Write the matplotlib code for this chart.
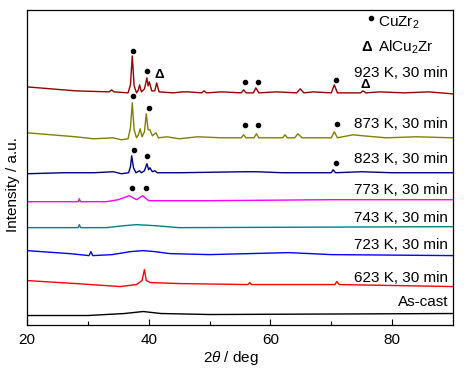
import matplotlib
matplotlib.use("Agg")
import matplotlib.pyplot as plt
import numpy as np

plt.rcParams['font.family'] = ['Liberation Sans', 'DejaVu Sans']
plt.rcParams['mathtext.fontset'] = 'custom'
plt.rcParams['mathtext.rm'] = 'Liberation Sans'
plt.rcParams['mathtext.it'] = 'Liberation Sans:italic'
plt.rcParams['mathtext.bf'] = 'Liberation Sans:bold'

# ---- data (2theta in deg, relative intensity in a.u.) ----
labels = ["923 K, 30 min", "873 K, 30 min", "823 K, 30 min", "773 K, 30 min",
          "743 K, 30 min", "723 K, 30 min", "623 K, 30 min", "As-cast"]
colors = ["#990000", "#808000", "#000080", "#FF00FF",
          "#008080", "#0000FF", "#FF0000", "#000000"]
offsets = [232, 187, 152, 124, 98, 70, 40, 10]
label_y = [248, 197, 162, 131, 103, 76, 43, 19]

x923 = [20, 24, 28, 33.5, 33.9, 34.3, 36.6, 37.0, 37.3, 37.6, 38.0, 38.3, 38.5, 38.8, 39.3,
        39.7, 39.9, 40.1, 40.5, 41.0, 41.3, 41.7, 44, 45.5, 46.5, 48.7, 49.1, 49.5, 52, 55.2,
        55.6, 56.0, 57.2, 57.6, 58.1, 61, 64.3, 64.9, 65.5, 67, 70.0, 70.5, 71.0, 74.8, 75.2,
        75.7, 78, 82, 86, 90]
y923 = [6, 4, 2, 1, 3, 1, 0, 8, 37, 7, 0, 3, 8, 1, 4,
        15, 7, 11, 2, 2, 10, 1, 0, 1, 1, 0, 2, 0, 1, 0,
        3, 0, 0, 5, 0, 1, 0, 4, 0, 1, 0, 8, 0, 0, 2,
        0, 1, 0, 1, -1]

x873 = [20, 24, 28, 31, 34.1, 35.5, 36.6, 37.0, 37.3, 37.6, 38.0, 38.3, 38.6, 38.9, 39.3,
        39.6, 39.9, 40.2, 40.6, 41.2, 41.6, 43.0, 45, 48, 52, 55.2, 55.6, 56.0, 57.3, 57.7,
        58.1, 62.0, 62.4, 62.8, 64.0, 64.5, 65.2, 70.0, 70.5, 71.0, 73.6, 75.2, 79, 84, 90]
y873 = [5, 3, 1, -1, 0, -2, -1, 10, 35, 8, 0, 3, 9, 1, 6,
        24, 8, 8, 2, 5, 0, 1, -1, 1, 0, 0, 3, 0, 0, 4,
        0, 0, 3, 0, 0, 4, 0, 0, 6, 0, 3, 2, 0, 1, 0]

x823 = [20, 26, 31, 34.2, 35.5, 36.7, 37.0, 37.2, 37.5, 37.9, 38.2, 38.5, 38.8, 39.3, 39.7,
        40.0, 40.2, 40.6, 41.0, 41.4, 45, 55.6, 57.7, 62, 70.0, 70.3, 70.7, 75, 80, 90]
y823 = [-1, 0, 0, 1, -1, 0, 6, 17, 5, 0, 1, 2, 0, 2, 9,
        3, 5, 1, 2, 0, 0, 1, 1, 0, 0, 3, 0, 1, 0, 0]

x773 = [20, 28.4, 28.6, 28.8, 33, 35, 36.8, 38.0, 39.0, 40.0, 42, 50, 70, 90]
y773 = [-1, -1, 2, -1, -1, 1, 5, 1, 5, 0, 0, 0, 1, 1]

x743 = [20, 28.4, 28.6, 28.8, 33, 36, 38, 41, 45, 90]
y743 = [-1, -1, 2, -1, -1, 1, 2, 1, -1, 0]

x723 = [20, 27, 30.2, 30.5, 30.8, 34, 37, 39.1, 41, 43.5, 50, 63, 70, 90]
y723 = [4, 1, -1, 3, -1, 0, 3, 4, 3, 1, 0, 2, 0, -1]

x623 = [20, 28, 35.3, 38, 38.9, 39.3, 39.6, 40.3, 45, 56.3, 56.6, 56.9, 70.6, 70.9, 71.3, 90]
y623 = [4, 1, -2, 0, 4, 15, 4, 2, 1, 0, 2, 0, 0, 3, 0, -2]

xcast = [20, 30, 36, 39.1, 42, 50, 90]
ycast = [-1, -1, 1, 3, 1, 0, 1]

curves_x = [x923, x873, x823, x773, x743, x723, x623, xcast]
curves_y = [y923, y873, y823, y773, y743, y723, y623, ycast]

# phase markers: (2theta, intensity position)
cuzr2_x = [37.4, 39.8, 55.8, 58.0, 70.8, 37.4, 40.0, 55.8, 58.0, 70.9, 37.5, 39.7, 70.8, 37.3, 39.6]
cuzr2_y = [274, 254, 243, 243, 245, 229, 217, 200, 200, 201, 175, 169, 162, 137, 137]
alcu2zr_x = [41.7, 75.5]
alcu2zr_y = [250, 240]

fig = plt.figure(figsize=(4.68, 3.68), dpi=100)
ax = fig.add_axes([27/468, 1 - 324.5/368, 426/468, 314.5/368])

for cx, cy, off, c in zip(curves_x, curves_y, offsets, colors):
    ax.plot(cx, np.array(cy) + off, color=c, lw=1.0)

for lab, ly in zip(labels, label_y):
    ax.text(89.2, ly, lab, ha='right', va='baseline', fontsize=11)

ax.plot(cuzr2_x, cuzr2_y, 'o', color='black', ms=3, ls='none')
for tx, ty in zip(alcu2zr_x, alcu2zr_y):
    ax.text(tx, ty, "Δ", ha='center', va='center', fontsize=9.5, fontweight='bold')

# legend-like annotations
ax.plot([76.5], [307], 'o', color='black', ms=3)
ax.text(77.7, 298, "CuZr$_2$", ha='left', va='baseline', fontsize=11)
ax.text(75.8, 278, "Δ", ha='center', va='center', fontsize=10.5, fontweight='bold')
ax.text(77.7, 273, "AlCu$_2$Zr", ha='left', va='baseline', fontsize=11)

ax.set_xlim(20, 90)
ax.set_ylim(0, 315)
ax.set_xticks([20, 40, 60, 80])
ax.set_xticks([30, 50, 70], minor=True)
ax.set_yticks([])
ax.tick_params(axis='x', which='major', direction='in', length=4, width=0.8, labelsize=11, pad=6)
ax.tick_params(axis='x', which='minor', direction='in', length=3, width=0.8)
for s in ax.spines.values():
    s.set_linewidth(0.9)

ax.set_xlabel(r"2$\theta$ / deg", fontsize=11)
ax.xaxis.set_label_coords(0.48, -0.077)
ax.set_ylabel("Intensity / a.u.", fontsize=11)
ax.yaxis.set_label_coords(-0.016, 0.446)

fig.savefig("out.png", dpi=100)
